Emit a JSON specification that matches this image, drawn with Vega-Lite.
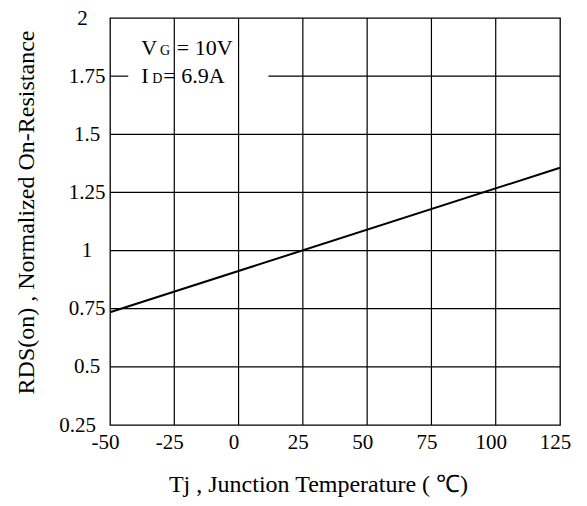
{
  "$schema": "https://vega.github.io/schema/vega-lite/v6.json",
  "width": 450,
  "height": 407,
  "autosize": {"type": "none"},
  "padding": {"left": 110, "top": 18, "right": 27, "bottom": 81},
  "background": "white",
  "config": {
    "view": {"stroke": "black", "strokeWidth": 1.3},
    "font": "Liberation Serif",
    "axis": {"labelColor": "black", "titleColor": "black", "titleFontWeight": "normal", "labelFont": "Liberation Serif", "titleFont": "Liberation Serif"}
  },
  "datasets": {
    "vgrid": [{"x": -25}, {"x": 0}, {"x": 25}, {"x": 50}, {"x": 75}, {"x": 100}],
    "hgrid": [{"y": 0.5}, {"y": 0.75}, {"y": 1.0}, {"y": 1.25}, {"y": 1.5}],
    "hgridsplit": [{"y": 1.75, "x": -50, "x2": -42.9}, {"y": 1.75, "x": 11.6, "x2": 125}],
    "curve": [{"x": -50, "y": 0.735}, {"x": 125, "y": 1.356}],
    "big": [
      {"x": -37.8, "y": 1.842, "s": "V"},
      {"x": -24.0, "y": 1.842, "s": "= 10V"},
      {"x": -37.8, "y": 1.72, "s": "I"},
      {"x": -29.3, "y": 1.72, "s": "= 6.9A"}
    ],
    "small": [
      {"x": -30.6, "y": 1.842, "s": "G"},
      {"x": -33.6, "y": 1.72, "s": "D"}
    ]
  },
  "encoding": {
    "x": {
      "field": "x", "type": "quantitative",
      "scale": {"domain": [-50, 125], "nice": false, "zero": false},
      "axis": {
        "values": [-50, -25, 0, 25, 50, 75, 100, 125],
        "labelExpr": "'' + datum.value",
        "grid": false, "domain": false, "ticks": false, "tickSize": 0,
        "labelFontSize": 21, "labelPadding": 6, "labelOffset": -5, "labelFlush": false,
        "title": "Tj , Junction Temperature ( ℃)",
        "titleFontSize": 24, "titleX": 208, "titleY": 66,
        "titleAlign": "center", "titleBaseline": "alphabetic", "titleAnchor": null
      }
    },
    "y": {
      "field": "y", "type": "quantitative",
      "scale": {"domain": [0.25, 2], "nice": false, "zero": false},
      "axis": {
        "values": [0.25, 0.5, 0.75, 1, 1.25, 1.5, 1.75, 2],
        "labelExpr": "'' + datum.value",
        "grid": false, "domain": false, "ticks": false, "tickSize": 0,
        "labelFontSize": 21, "labelAlign": "center",
        "labelPadding": {"condition": [{"test": "datum.value == 0.25", "value": 33}, {"test": "datum.value == 2", "value": 28}], "value": 23.5},
        "labelFlush": false,
        "title": "RDS(on) , Normalized On-Resistance",
        "titleFontSize": 24, "titleX": -84, "titleY": 194, "titleAngle": -90,
        "titleAlign": "center", "titleBaseline": "middle", "titleAnchor": null
      }
    }
  },
  "layer": [
    {
      "data": {"name": "vgrid"},
      "mark": {"type": "rule", "color": "black", "strokeWidth": 1.2},
      "encoding": {"y": null}
    },
    {
      "data": {"name": "hgrid"},
      "mark": {"type": "rule", "color": "black", "strokeWidth": 1.2},
      "encoding": {"x": null}
    },
    {
      "data": {"name": "hgridsplit"},
      "mark": {"type": "rule", "color": "black", "strokeWidth": 1.2},
      "encoding": {"x2": {"field": "x2"}}
    },
    {
      "data": {"name": "curve"},
      "mark": {"type": "line", "color": "black", "strokeWidth": 2},
      "encoding": {}
    },
    {
      "data": {"name": "big"},
      "mark": {"type": "text", "align": "left", "baseline": "alphabetic", "fontSize": 22, "color": "black", "font": "Liberation Serif"},
      "encoding": {"text": {"field": "s"}}
    },
    {
      "data": {"name": "small"},
      "mark": {"type": "text", "align": "left", "baseline": "alphabetic", "fontSize": 14, "color": "black", "font": "Liberation Serif"},
      "encoding": {"text": {"field": "s"}}
    }
  ]
}
